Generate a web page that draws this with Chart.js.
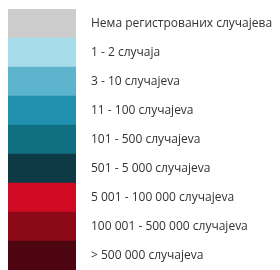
<!DOCTYPE html>
<html>
<head>
<meta charset="utf-8">
<script src="https://cdn.jsdelivr.net/npm/chart.js@4"></script>
<style>
  html, body { margin: 0; padding: 0; background: #fff; }
  #wrap { width: 280px; height: 270px; }
</style>
</head>
<body>
<div id="wrap"><canvas id="legendChart"></canvas></div>
<script>
// legend classes
const classLabels = [
  "Нема регистрованих случајева",
  "1 - 2 случаја",
  "3 - 10 случајeva",
  "11 - 100 случајeva",
  "101 - 500 случајeva",
  "501 - 5 000 случајeva",
  "5 001 - 100 000 случајeva",
  "100 001 - 500 000 случајeva",
  "> 500 000 случајeva"
];
const swatchValues = [1, 1, 1, 1, 1, 1, 1, 1, 1];
const swatchColors = ["#cccccc", "#a7dceb", "#5cb5cc", "#1f90ad", "#0f6f80", "#0d3a45", "#d10a24", "#8c0a18", "#4d0510"];

Chart.defaults.font.family = "'Open Sans', sans-serif";
Chart.defaults.font.size = 12;
Chart.defaults.color = "#333";

new Chart("legendChart", {
  type: "bar",
  data: {
    labels: classLabels,
    datasets: [{
      data: swatchValues,
      backgroundColor: swatchColors,
      barPercentage: 1,
      categoryPercentage: 1,
      borderWidth: 0
    }]
  },
  options: {
    indexAxis: "y",
    responsive: true,
    maintainAspectRatio: false,
    animation: false,
    layout: { padding: { left: 8, top: 9, right: 0, bottom: 0 } },
    plugins: { legend: { display: false }, tooltip: { enabled: false } },
    scales: {
      x: { display: false, min: 0, max: 1 },
      y: {
        position: "right",
        grid: { display: false, drawTicks: false },
        border: { display: false },
        ticks: { padding: 15, autoSkip: false },
        afterFit: function (axis) {
          axis.width = 204;
          axis.paddingTop = 0;
          axis.paddingBottom = 0;
        }
      }
    }
  }
});
</script>
</body>
</html>
